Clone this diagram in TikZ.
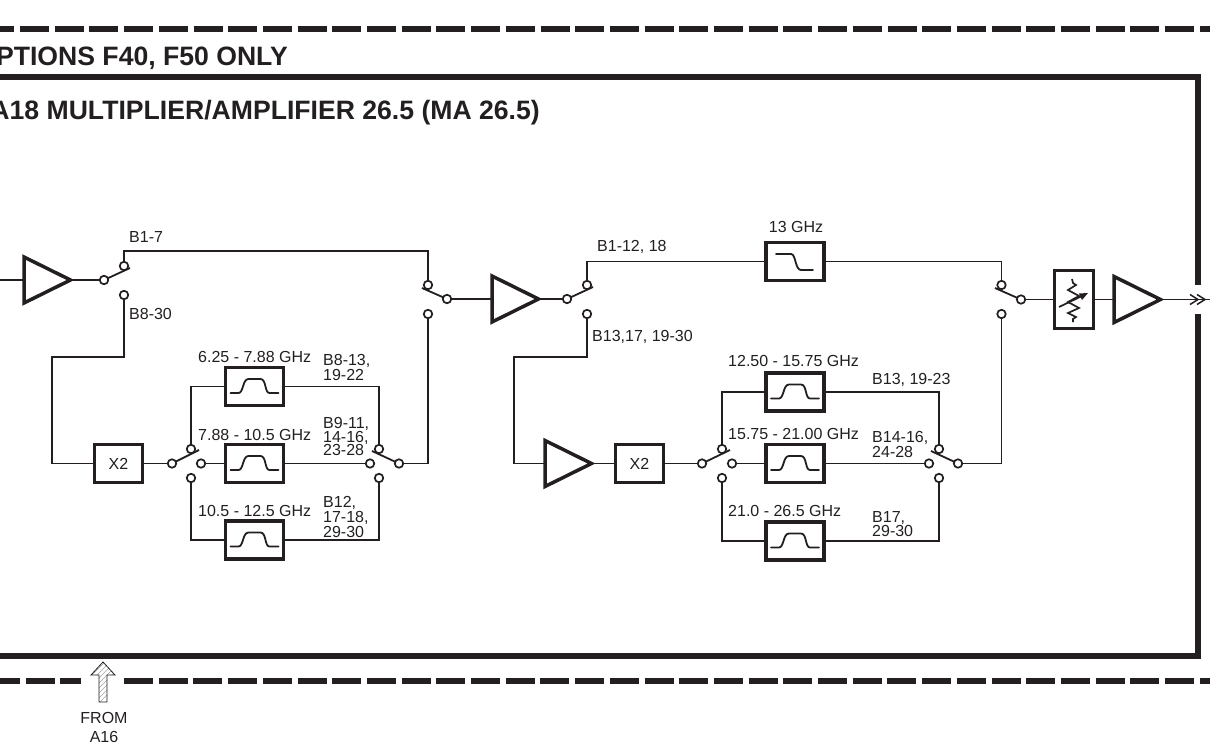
\documentclass[tikz,border=0pt]{standalone}
\usepackage{fontspec}
\setmainfont{Liberation Sans}
\usetikzlibrary{shapes.geometric}
\definecolor{ink}{HTML}{231F20}
\tikzset{
  x=1pt,y=-1pt,
  every node/.style={text=ink},
  wire/.style={draw=ink,line width=1.8pt},
  heavy/.style={draw=ink,line width=6pt,line join=miter},
  dashline/.style={draw=ink,line width=5.5pt,dash pattern=on 29pt off 5.7pt},
  contact/.style={circle,draw=ink,fill=white,line width=1.7pt,minimum size=8.5pt,inner sep=0pt,outer sep=0pt},
  blockbox/.style={rectangle,draw=ink,fill=white,line width=3.2pt,inner sep=0pt,outer sep=0pt},
  x2box/.style={blockbox,minimum width=48pt,minimum height=38pt,font=\fontsize{16}{16}\selectfont},
  filterbox/.style={blockbox,minimum width=58pt,minimum height=38pt},
  amp/.style={isosceles triangle,isosceles triangle stretches,draw=ink,fill=white,line width=3.5pt,minimum height=46.5pt,minimum width=46pt,inner sep=0pt,outer sep=0pt,anchor=apex},
  lbl/.style={anchor=west,inner sep=0pt,align=left,font=\fontsize{16}{#1}\selectfont},
  lbl/.default=13.5,
  ctr/.style={anchor=center,inner sep=0pt,align=center,font=\fontsize{16}{19}\selectfont},
  title/.style={anchor=base east,inner sep=0pt,font=\fontsize{26.6}{26.6}\selectfont\bfseries},
  bandpass/.pic={\draw[draw=ink,line width=1.8pt,line cap=round] (-24,6.5) -- (-16,6.5) .. controls (-11,6.5) and (-12,-7.5) .. (-6,-7.5) -- (6,-7.5) .. controls (12,-7.5) and (10,6.5) .. (15,6.5) -- (24,6.5);},
  lowpass/.pic={\draw[draw=ink,line width=1.8pt,line cap=round] (-19,-7.5) -- (-4,-7.5) .. controls (1,-7.5) and (0,8.5) .. (6,8.5) -- (18,8.5);}
}
\begin{document}
\begin{tikzpicture}
\useasboundingbox (0,0) rectangle (1210,752);
\clip (0,0) rectangle (1210,752);
% enclosure
\draw[dashline] (-14.7,29) -- (1230,29);
\draw[dashline] (-9,681) -- (81,681);
\draw[dashline] (124,681) -- (1230,681);
\coordinate (frameTL) at (-10,77);
\coordinate (frameBL) at (-10,656);
\coordinate (frameGapTop) at (1198,285);
\coordinate (frameGapBot) at (1198,314);
\draw[heavy] (frameTL) -| (frameGapTop);
\draw[heavy] (frameBL) -| (frameGapBot);
\node[title] (tOpt) at (288,65.5) {OPTIONS F40, F50 ONLY};
\node[title] (tA18) at (540,119.5) {A18 MULTIPLIER/AMPLIFIER 26.5 (MA 26.5)};
% amplifiers and boxes
\coordinate (inA) at (-5,280);
\node[amp] (amp1) at (70.5,280) {};
\node[amp] (amp2) at (538.5,299) {};
\node[amp] (amp3) at (591.5,463.5) {};
\node[amp] (amp4) at (1160.5,299.5) {};
\node[x2box] (x2a) at (118.5,463.5) {X2};
\node[x2box] (x2b) at (639.5,463.5) {X2};
\node[filterbox] (fa1) at (254.5,386.5) {};
\node[filterbox] (fa2) at (254.5,463.5) {};
\node[filterbox] (fa3) at (254.5,540) {};
\node[filterbox] (flp) at (795,261.5) {};
\node[filterbox] (fb1) at (795,392) {};
\node[filterbox] (fb2) at (795,463.5) {};
\node[filterbox] (fb3) at (795,541) {};
\pic at (fa1) {bandpass};
\pic at (fa2) {bandpass};
\pic at (fa3) {bandpass};
\pic at (fb1) {bandpass};
\pic at (fb2) {bandpass};
\pic at (fb3) {bandpass};
\pic at (flp) {lowpass};
\node[blockbox,minimum width=39pt,minimum height=58pt] (atten) at (1074,299.5) {};
\draw[draw=ink,line width=1.7pt] (1072,279) -- (1073,283) -- (1076,285) -- (1068,290) -- (1079,296) -- (1068,302) -- (1079,308) -- (1068,313) -- (1076,317) -- (1073,319) -- (1073,322);
\draw[draw=ink,line width=1.7pt] (1059,307) -- (1084,295);
\fill[ink] (1088,293) -- (1079,293.5) -- (1082,300) -- cycle;
% switch contacts
\node[contact] (s1p) at (104,280) {};
\node[contact] (s1a) at (124,266) {};
\node[contact] (s1b) at (124,295) {};
\node[contact] (s2p) at (447,299) {};
\node[contact] (s2a) at (428,285) {};
\node[contact] (s2b) at (428,314) {};
\node[contact] (s3p) at (172,463.5) {};
\node[contact] (s3a) at (191,449) {};
\node[contact] (s3m) at (201,463.5) {};
\node[contact] (s3b) at (191,478) {};
\node[contact] (s4p) at (399,463.5) {};
\node[contact] (s4a) at (379,449) {};
\node[contact] (s4m) at (370,463.5) {};
\node[contact] (s4b) at (379,478) {};
\node[contact] (s5p) at (567,299) {};
\node[contact] (s5a) at (587,285) {};
\node[contact] (s5b) at (587,314) {};
\node[contact] (s6p) at (1021,299.5) {};
\node[contact] (s6a) at (1001.5,285) {};
\node[contact] (s6b) at (1001.5,314) {};
\node[contact] (s7p) at (702,463.5) {};
\node[contact] (s7a) at (722,449) {};
\node[contact] (s7m) at (732,463.5) {};
\node[contact] (s7b) at (722,478) {};
\node[contact] (s8p) at (958,463.5) {};
\node[contact] (s8a) at (939,449) {};
\node[contact] (s8m) at (929,463.5) {};
\node[contact] (s8b) at (939,478) {};
% blades
\coordinate (b1) at (130,268);
\coordinate (b2) at (422,288);
\coordinate (b3) at (199,450);
\coordinate (b4) at (372,451);
\coordinate (b5) at (593,287);
\coordinate (b6) at (995,288);
\coordinate (b7) at (730,450);
\coordinate (b8) at (931,451);
\draw[wire] (s1p) -- (b1);
\draw[wire] (s2p) -- (b2);
\draw[wire] (s3p) -- (b3);
\draw[wire] (s4p) -- (b4);
\draw[wire] (s5p) -- (b5);
\draw[wire] (s6p) -- (b6);
\draw[wire] (s7p) -- (b7);
\draw[wire] (s8p) -- (b8);
% routing points
\coordinate (r1) at (280,251);
\coordinate (r2) at (90,357);
\coordinate (r3) at (550,357);
% connectors, left half
\draw[wire] (inA) -- (amp1.lower side);
\draw[wire] (amp1.apex) -- (s1p);
\draw[wire] (s1a.north) |- (r1) -| (s2a.north);
\draw[wire] (s1b.south) |- (r2) -- (52,357) |- (x2a.west);
\draw[wire] (x2a.east) -- (s3p);
\draw[wire] (s3a.north) |- (fa1.west);
\draw[wire] (s3m) -- (fa2.west);
\draw[wire] (s3b.south) |- (fa3.west);
\draw[wire] (fa1.east) -| (s4a.north);
\draw[wire] (fa2.east) -- (s4m);
\draw[wire] (fa3.east) -| (s4b.south);
\draw[wire] (s4p) -| (s2b.south);
\draw[wire] (s2p) -- (amp2.lower side);
% connectors, right half
\draw[wire] (amp2.apex) -- (s5p);
\draw[wire] (s5a.north) |- (flp.west);
\draw[wire] (flp.east) -| (s6a.north);
\draw[wire] (s5b.south) |- (r3) -- (514,357) |- (amp3.lower side);
\draw[wire] (amp3.apex) -- (x2b.west);
\draw[wire] (x2b.east) -- (s7p);
\draw[wire] (s7a.north) |- (fb1.west);
\draw[wire] (s7m) -- (fb2.west);
\draw[wire] (s7b.south) |- (fb3.west);
\draw[wire] (fb1.east) -| (s8a.north);
\draw[wire] (fb2.east) -- (s8m);
\draw[wire] (fb3.east) -| (s8b.south);
\draw[wire] (s8p) -| (s6b.south);
\draw[wire] (s6p) -- (atten.west);
\draw[wire] (atten.east) -- (amp4.lower side);
\coordinate (outA) at (1215,299.5);
\draw[wire] (amp4.apex) -- (outA);
\draw[draw=ink,line width=1.5pt] (1190,294.5) -- (1198,299.5) -- (1190,304.5);
\draw[draw=ink,line width=1.5pt] (1197,294.5) -- (1205,299.5) -- (1197,304.5);
% hatched input arrow
\begin{scope}
\path[fill=white] (99,702) -- (99,675) -- (91,675) -- (103,662) -- (115,675) -- (107,675) -- (107,702) -- cycle;
\clip (99,702) -- (99,675) -- (91,675) -- (103,662) -- (115,675) -- (107,675) -- (107,702) -- cycle;
\foreach \k in {0,5,...,60}{\draw[gray!70,line width=.6pt] (90,{712-\k}) -- (125,{677-\k});}
\end{scope}
\draw[draw=ink,line width=.8pt] (99,702) -- (99,675) -- (91,675) -- (103,662) -- (115,675) -- (107,675) -- (107,702) -- cycle;
% labels
\node[lbl] (l1) at (129,237) {B1-7};
\node[lbl] (l2) at (129,314) {B8-30};
\node[lbl] (l3) at (198,357) {6.25 - 7.88 GHz};
\node[lbl] (l4) at (198,435) {7.88 - 10.5 GHz};
\node[lbl] (l5) at (198,511) {10.5 - 12.5 GHz};
\node[lbl=13] (l6) at (323,367.5) {B8-13,\\19-22};
\node[lbl=13.5] (l7) at (323,436.5) {B9-11,\\14-16,\\23-28};
\node[lbl=15] (l8) at (323,517) {B12,\\17-18,\\29-30};
\node[lbl] (l9) at (597,247) {B1-12, 18};
\node[lbl] (l10) at (592,337) {B13,17, 19-30};
\node[lbl] (l11) at (728,361) {12.50 - 15.75 GHz};
\node[lbl] (l12) at (728,434) {15.75 - 21.00 GHz};
\node[lbl] (l13) at (728,511) {21.0 - 26.5 GHz};
\node[lbl] (l14) at (872,380) {B13, 19-23};
\node[lbl=13] (l15) at (872,444.5) {B14-16,\\24-28};
\node[lbl=14] (l16) at (872,524) {B17,\\29-30};
\node[ctr] (l17) at (796,227) {13 GHz};
\node[ctr] (l18) at (104,727.5) {FROM\\A16};
\end{tikzpicture}
\end{document}
